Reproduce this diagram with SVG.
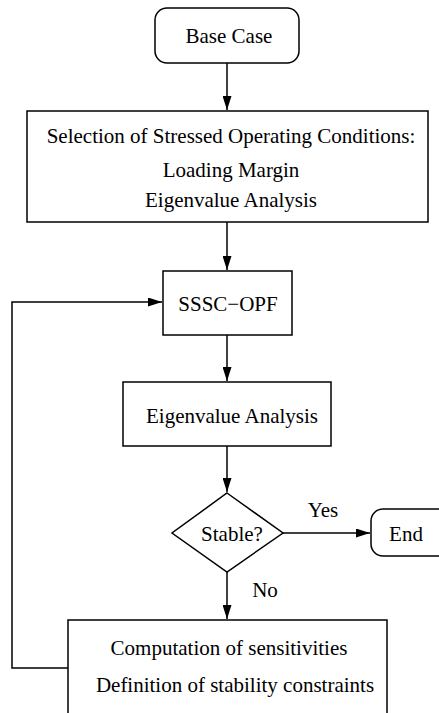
<svg xmlns="http://www.w3.org/2000/svg" width="439" height="713" viewBox="0 0 439 713">
<style>
.n{fill:#fff;stroke:#000;stroke-width:1.5}
.t{font-family:"Liberation Serif","Times New Roman",serif;font-size:21px;fill:#000;text-anchor:middle}
.c{fill:none;stroke:#000;stroke-width:1.5}
</style>
<defs>
<marker id="a" viewBox="0 0 14 9" refX="14" refY="4.5" markerWidth="14" markerHeight="9" markerUnits="userSpaceOnUse" orient="auto">
<path d="M0,0 L14,4.5 L0,9 z" fill="#000"/>
</marker>
</defs>
<rect width="439" height="713" fill="#fff"/>
<g id="connectors">
<path class="c" d="M227,63 V110" marker-end="url(#a)"/>
<path class="c" d="M227,222 V270" marker-end="url(#a)"/>
<path class="c" d="M227,335 V381" marker-end="url(#a)"/>
<path class="c" d="M227,446 V492" marker-end="url(#a)"/>
<path class="c" d="M283,533 H370" marker-end="url(#a)"/>
<path class="c" d="M227,572 V619" marker-end="url(#a)"/>
<path class="c" d="M68,668 H12 V302 H162" marker-end="url(#a)"/>
<text class="t" x="323" y="517">Yes</text>
<text class="t" x="265" y="597">No</text>
</g>
<g id="base">
<rect class="n" x="155" y="8" width="144" height="55" rx="12"/>
<text class="t" x="229" y="43">Base Case</text>
</g>
<g id="selection">
<rect class="n" x="27" y="111" width="401" height="111"/>
<text class="t" x="231" y="143">Selection of Stressed Operating Conditions:</text>
<text class="t" x="231" y="177">Loading Margin</text>
<text class="t" x="231" y="207">Eigenvalue Analysis</text>
</g>
<g id="opf">
<rect class="n" x="163" y="271" width="129" height="64"/>
<text class="t" x="228" y="311">SSSC−OPF</text>
</g>
<g id="eig">
<rect class="n" x="123" y="382" width="208" height="64"/>
<text class="t" x="232" y="423">Eigenvalue Analysis</text>
</g>
<g id="stable">
<polygon class="n" points="227,493 283,533 227,572 172,533"/>
<text class="t" x="232" y="541">Stable?</text>
</g>
<g id="end">
<rect class="n" x="371" y="509" width="80" height="47" rx="12"/>
<text class="t" x="406" y="541">End</text>
</g>
<g id="comp">
<rect class="n" x="68" y="620" width="319" height="110"/>
<text class="t" x="229" y="655">Computation of sensitivities</text>
<text class="t" x="235" y="692">Definition of stability constraints</text>
</g>
</svg>
